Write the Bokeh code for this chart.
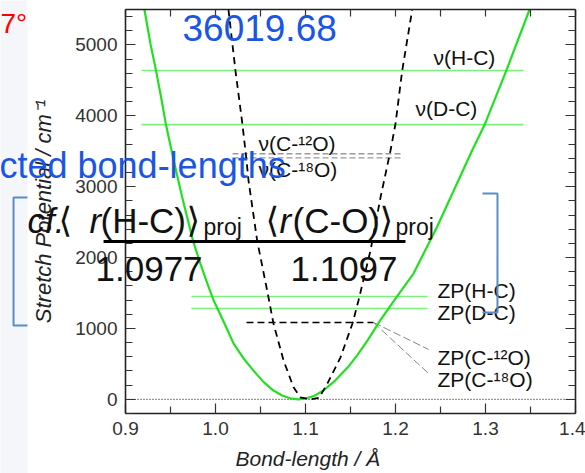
from bokeh.plotting import figure
from bokeh.models import (Range1d, LinearAxis, Label, BoxAnnotation, PolyAnnotation,
                          FixedTicker, NumeralTickFormatter)
from bokeh.embed import file_html
from bokeh.resources import INLINE

# ---------------- data ----------------
# stretch potential of the C-H bond (green)
green_x = [0.921, 0.928, 0.934, 0.940, 0.945, 0.953, 0.963, 0.975, 0.983, 0.991, 0.998,
           1.010, 1.020, 1.031, 1.042, 1.053, 1.064, 1.074, 1.083, 1.092, 1.101, 1.110,
           1.120, 1.133, 1.147, 1.158, 1.169, 1.183, 1.200, 1.220, 1.246, 1.285, 1.299,
           1.323, 1.349]
green_y = [5500, 5000, 4634, 4230, 3873, 3400, 2850, 2239, 1920, 1634, 1394,
           1070, 789, 580, 408, 250, 127, 55, 14, 0, 13, 50,
           127, 265, 451, 630, 831, 1113, 1420, 1775, 2427, 3507, 3873,
           4634, 5500]
# stretch potential of the C-O bond (black dashed)
co_x = [1.0144, 1.0222, 1.0300, 1.0339, 1.0367, 1.0463, 1.0574, 1.0644, 1.0756, 1.0867,
        1.0944, 1.1060, 1.1150, 1.1244, 1.1389, 1.1522, 1.1589, 1.1722, 1.1833, 1.1944,
        1.2000, 1.2074, 1.2186]
co_y = [5500, 4634, 3873, 3437, 3085, 2239, 1535, 1070, 549, 169,
        28, 0, 20, 225, 592, 1070, 1394, 2099, 2845, 3507,
        3887, 4634, 5500]

x_ticks = [0.9, 1.0, 1.1, 1.2, 1.3, 1.4]
x_minor = [0.95, 1.05, 1.15, 1.25, 1.35]
y_ticks = [0, 1000, 2000, 3000, 4000, 5000]
y_minor = [-200, 200, 400, 600, 800, 1200, 1400, 1600, 1800, 2200, 2400, 2600, 2800,
           3200, 3400, 3600, 3800, 4200, 4400, 4600, 4800, 5200, 5400]
x_lim = (0.9, 1.4)
y_lim = (-200, 5500)

nu_names = ["\u03bd(H-C)", "\u03bd(D-C)"]
nu_levels = [4639, 3876]
nu_span = [0.9178, 1.3422]
nu_co_names = ["\u03bd(C-\u00b9\u00b2O)", "\u03bd(C-\u00b9\u2078O)"]
nu_co_levels = [3464, 3407]
nu_co_span = [1.0189, 1.2089]
zp_names = ["ZP(H-C)", "ZP(D-C)"]
zp_levels = [1450, 1281]
zp_span = [0.9733, 1.2356]
zp_co_names = ["ZP(C-\u00b9\u00b2O)", "ZP(C-\u00b9\u2078O)"]
zp_co_level = 1084
zp_co_span = [1.0344, 1.1756]

bond_lengths = ["1.0977", "1.1097"]
energy_text = "36019.68"

FONT = "Liberation Sans"
BLUE = "#1a55e3"

# the plotting frame fills the whole canvas; the axes are pinned to the data box
p = figure(width=585, height=473, x_range=Range1d(0.76111, 1.41111),
           y_range=Range1d(-1046.5, 5627.0),
           output_backend="svg", toolbar_location=None,
           min_border=0, min_border_left=0, min_border_right=0,
           min_border_top=0, min_border_bottom=0)
p.grid.visible = False
p.outline_line_color = None
p.background_fill_color = "white"
p.border_fill_color = "white"

def style_axis(ax, show_labels=True):
    ax.axis_line_color = "#222222"
    ax.axis_line_width = 1.6
    ax.major_tick_line_color = "#333333"
    ax.minor_tick_line_color = "#333333"
    ax.major_tick_line_width = 1.2
    ax.minor_tick_line_width = 1.2
    ax.major_tick_in = 10
    ax.major_tick_out = 0
    ax.minor_tick_in = 7
    ax.minor_tick_out = 0
    ax.major_label_text_font = FONT
    ax.major_label_text_font_size = "19px"
    if show_labels:
        ax.major_label_text_color = "#333333"
        ax.major_label_standoff = 8
    else:
        ax.major_label_text_color = None
        ax.major_label_standoff = 0

xa = p.xaxis[0]
ya = p.yaxis[0]
xa.ticker = FixedTicker(ticks=x_ticks, minor_ticks=x_minor)
xa.formatter = NumeralTickFormatter(format="0.0")
xa.fixed_location = y_lim[0]
xa.bounds = x_lim
ya.ticker = FixedTicker(ticks=y_ticks, minor_ticks=y_minor)
ya.formatter = NumeralTickFormatter(format="0")
ya.fixed_location = x_lim[0]
ya.bounds = y_lim
style_axis(xa)
style_axis(ya)
ya.axis_label = "Stretch Potential / cm\u207b\u00b9"
ya.axis_label_text_font = FONT
ya.axis_label_text_font_style = "italic"
ya.axis_label_text_font_size = "22px"
ya.axis_label_text_color = "#222222"
ya.axis_label_standoff = 16

top = LinearAxis(ticker=FixedTicker(ticks=x_ticks, minor_ticks=x_minor),
                 fixed_location=y_lim[1], bounds=x_lim)
style_axis(top, False)
top.major_tick_in = 7
top.minor_tick_in = 7
p.add_layout(top, "above")
right = LinearAxis(ticker=FixedTicker(ticks=y_ticks, minor_ticks=y_minor),
                   fixed_location=x_lim[1], bounds=y_lim)
style_axis(right, False)
p.add_layout(right, "right")

# light page strip at the left edge of the slide
p.add_layout(BoxAnnotation(left=0.70, right=0.7911, bottom=-2000, top=7000,
                           fill_color="#f4f6f9", fill_alpha=1, line_color=None, level="underlay"))

# zero line
p.line(x=list(x_lim), y=[0, 0], line_color="black", line_width=1, line_dash="1 2")

# level lines
for lv in nu_levels:
    p.line(x=nu_span, y=[lv, lv], line_color="#7cf07c", line_width=1.6)
for lv in zp_levels:
    p.line(x=zp_span, y=[lv, lv], line_color="#7cf07c", line_width=1.6)
for lv in nu_co_levels:
    p.line(x=nu_co_span, y=[lv, lv], line_color="#9a9a9a", line_width=1.4, line_dash="6 3")
p.line(x=zp_co_span, y=[zp_co_level, zp_co_level], line_color="black", line_width=1.6,
       line_dash="7 4")
# leader lines to the ZP(C-O) labels
p.line(x=[zp_co_span[1], 1.2367], y=[zp_co_level, 704], line_color="#888888", line_width=1,
       line_dash="8 3")
p.line(x=[zp_co_span[1], 1.2367], y=[zp_co_level, 365], line_color="#888888", line_width=1,
       line_dash="8 3")

# curves
p.line(x=green_x, y=green_y, line_color="#22e022", line_width=2.2)
p.line(x=co_x, y=co_y, line_color="black", line_width=1.8, line_dash="7 5")

def lab(text, x, y, size, color="#111111", style="normal", font=FONT):
    # y is the vertical middle of the capital letters
    p.add_layout(Label(x=x, y=y, text=text, text_font=font, text_font_size=size,
                       text_color=color, text_font_style=style, text_baseline="middle",
                       text_align="left"))

# level labels
lab(nu_names[0], 1.2422, 4822, "21px")
lab(nu_names[1], 1.2222, 4103, "21px")
lab(nu_co_names[0], 1.0478, 3609, "21px")
lab(nu_co_names[1], 1.0478, 3242, "21px")
lab(zp_names[0], 1.2467, 1535, "21px")
lab(zp_names[1], 1.2467, 1225, "21px")
lab(zp_co_names[0], 1.2467, 590, "21px")
lab(zp_co_names[1], 1.2467, 279, "21px")

# x axis title (off-centre, as in the picture)
lab("Bond-length / \u00c5", 1.0222, -840, "21px", color="#222222", style="italic")

# overlaid slide texts
lab(energy_text, 0.9633, 5232, "37px", color=BLUE)
lab("7\u00b0", 0.7611, 5302, "28px", color="#ff0000")
lab("cted bond-lengths", 0.7600, 3299, "36px", color=BLUE)
lab("cf.", 0.7911, 2530, "35px", style="italic")
lab("\u27e8", 0.8256, 2530, "35px", font="DejaVu Sans")
lab("r", 0.8600, 2530, "35px", style="italic")
lab("(H-C)", 0.8722, 2530, "35px")
lab("\u27e9", 0.9678, 2530, "35px", font="DejaVu Sans")
lab("proj", 0.9867, 2428, "23px")
lab("\u27e8", 1.0556, 2530, "35px", font="DejaVu Sans")
lab("r", 1.0711, 2530, "35px", style="italic")
lab("(C-O)", 1.0856, 2530, "35px")
lab("\u27e9", 1.1822, 2530, "35px", font="DejaVu Sans")
lab("proj", 1.2000, 2428, "23px")
p.add_layout(BoxAnnotation(left=0.8756, right=1.2111, bottom=2205, top=2248,
                           fill_color="black", fill_alpha=1, line_color=None))
lab(bond_lengths[0], 0.8667, 1838, "35px")
lab(bond_lengths[1], 1.0833, 1838, "35px")

# blue brackets
p.add_layout(PolyAnnotation(xs=[0.7911, 0.7756, 0.7756, 0.7911, 0.7756, 0.7756],
                            ys=[2847, 2847, 1041, 1041, 1041, 2847],
                            fill_alpha=0, line_color="#5b8cc8", line_alpha=1, line_width=2))
p.add_layout(PolyAnnotation(xs=[1.2967, 1.3133, 1.3133, 1.2967, 1.3133, 1.3133],
                            ys=[2904, 2904, 1225, 1225, 1225, 2904],
                            fill_alpha=0, line_color="#5b8cc8", line_alpha=1, line_width=2))

open("out.html", "w").write(file_html(p, INLINE))
